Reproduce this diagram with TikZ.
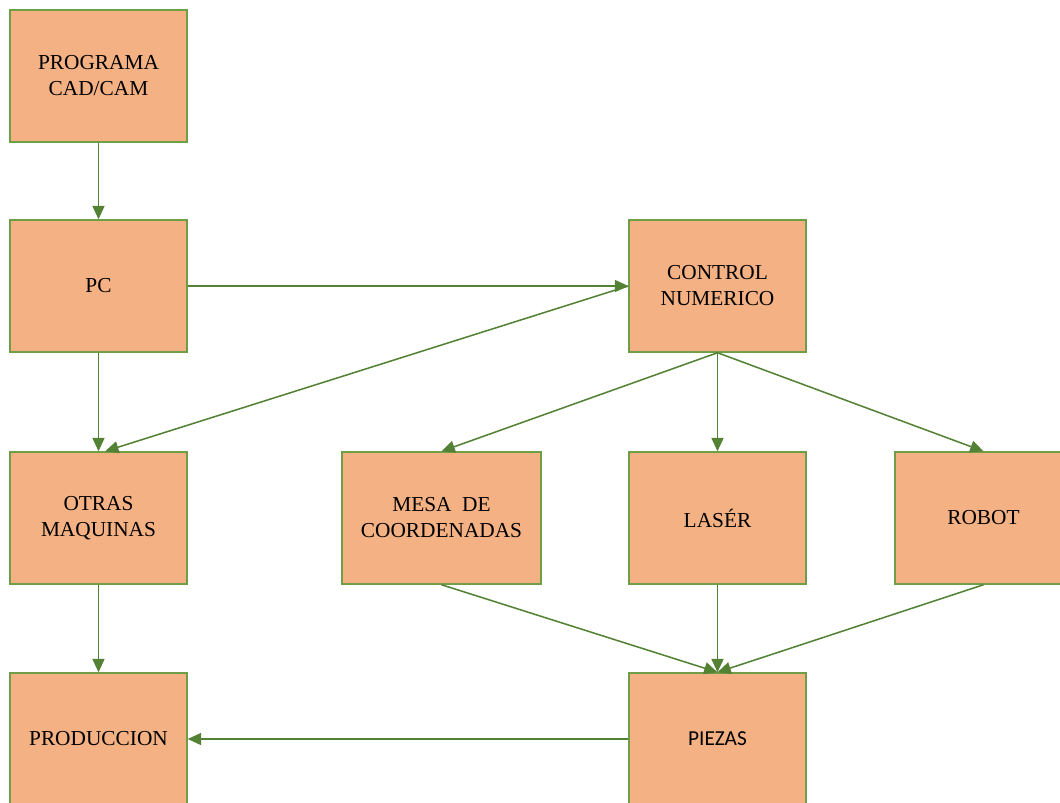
\documentclass[tikz,border=0pt]{standalone}
\usepackage{fontspec}
\setmainfont{Liberation Serif}
\newfontfamily\calfont{Carlito}
\usetikzlibrary{arrows.meta}
\definecolor{boxfill}{HTML}{F4B183}
\definecolor{boxline}{HTML}{6E9E45}
\definecolor{arrcol}{HTML}{548235}
\tikzset{
  box/.style={draw=boxline, fill=boxfill, line width=1.1pt, minimum width=132.75pt, minimum height=99pt, align=center, inner sep=0pt, font=\fontsize{16pt}{19.5pt}\selectfont},
  conn/.style={draw=arrcol, line width=1.15pt, -{Triangle[length=10pt,width=9pt]}}
}
\begin{document}
\begin{tikzpicture}[x=0.75pt,y=-0.75pt]
\path[use as bounding box] (0,0) rectangle (1060,803);
\clip (0,0) rectangle (1060,803);
\node[box] (cad) at (98.5,76) {PROGRAMA\\CAD/CAM};
\node[box] (pc) at (98.5,286) {PC};
\node[box] (cn) at (717.5,286) {CONTROL\\NUMERICO};
\node[box] (otras) at (98.5,518) {OTRAS\\MAQUINAS};
\node[box, minimum width=149.25pt] (mesa) at (441.5,518) {MESA\ \ DE\\COORDENADAS};
\node[box] (laser) at (717.5,518) {LASÉR};
\node[box] (robot) at (983.5,518) {ROBOT};
\node[box] (prod) at (98.5,739) {PRODUCCION};
\node[box, font=\calfont\fontsize{16pt}{19pt}\selectfont] (piezas) at (717.5,739) {PIEZAS};
\draw[conn] (cad.south) -- (pc.north);
\draw[conn] (pc.east) -- (cn.west);
\draw[conn] (cn.west) -- ([xshift=5]otras.north);
\draw[conn] (pc.south) -- (otras.north);
\draw[conn] (cn.south) -- (mesa.north);
\draw[conn] (cn.south) -- (laser.north);
\draw[conn] (cn.south) -- (robot.north);
\draw[conn] (mesa.south) -- (piezas.north);
\draw[conn] (laser.south) -- (piezas.north);
\draw[conn] (robot.south) -- (piezas.north);
\draw[conn] (otras.south) -- (prod.north);
\draw[conn] (piezas.west) -- (prod.east);
\end{tikzpicture}
\end{document}
